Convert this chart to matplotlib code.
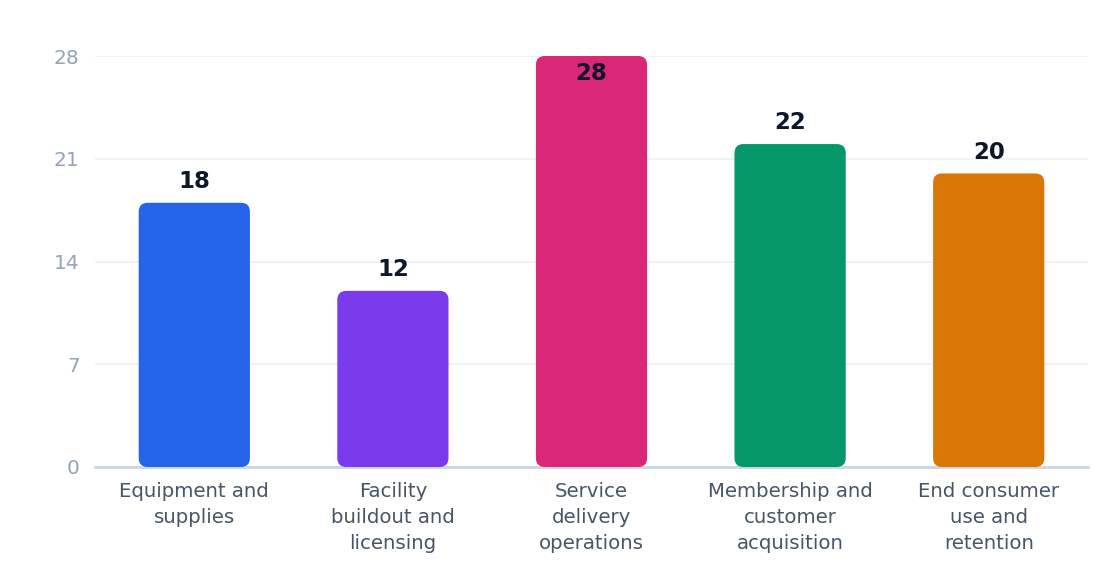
import numpy as np
import matplotlib
matplotlib.use("Agg")
import matplotlib.pyplot as plt
from matplotlib.patches import FancyBboxPatch

categories = ["Equipment and\nsupplies", "Facility\nbuildout and\nlicensing",
              "Service\ndelivery\noperations", "Membership and\ncustomer\nacquisition",
              "End consumer\nuse and\nretention"]
values = [18, 12, 28, 22, 20]
colors = ["#2563eb", "#7c3aed", "#db2777", "#059669", "#d97706"]
yticks = [0, 7, 14, 21, 28]

fig = plt.figure(figsize=(11.2, 5.84), dpi=100)
ax = fig.add_axes([95 / 1120, 117 / 584, 993 / 1120, 411 / 584])

x = np.arange(len(values))
width = 0.56
bars = ax.bar(x, values, width=width, color=colors)

ax.set_xlim(-0.5, len(values) - 0.5)
ax.set_ylim(0, 28)

# swap plain rectangles for rounded ones (radius ~8px)
px_x = 993 / 5.0
px_y = 411 / 28.0
r = 9 / px_x
for b, c in zip(bars, colors):
    b.set_visible(False)
    p = FancyBboxPatch((b.get_x(), b.get_y()), b.get_width(), b.get_height(),
                       boxstyle=f"round,pad=0,rounding_size={r}",
                       mutation_aspect=px_x / px_y,
                       facecolor=c, edgecolor="none", zorder=3)
    ax.add_patch(p)

# value labels
vmax = max(values)
for xi, v in zip(x, values):
    if v >= vmax:
        ax.annotate(str(v), (xi, v), xytext=(0, -4), textcoords="offset points",
                    ha="center", va="top", fontsize=16.5, fontweight="bold",
                    color="#0f172a", zorder=4)
    else:
        ax.annotate(str(v), (xi, v), xytext=(0, 7), textcoords="offset points",
                    ha="center", va="bottom", fontsize=16.5, fontweight="bold",
                    color="#0f172a", zorder=4)

ax.set_yticks(yticks)
ax.set_xticks(x)
ax.set_xticklabels(categories, linespacing=1.45)
ax.tick_params(axis="y", length=0, pad=11, labelsize=14.5, labelcolor="#94a3b8")
ax.tick_params(axis="x", length=0, pad=11, labelsize=14.2, labelcolor="#475569")

ax.grid(axis="y", color="#eef2f6", linewidth=1.3, zorder=0)
ax.set_axisbelow(True)
for s in ["top", "right", "left"]:
    ax.spines[s].set_visible(False)
ax.spines["bottom"].set_color("#cbd5e1")
ax.spines["bottom"].set_linewidth(2)
ax.spines["bottom"].set_zorder(2)

fig.savefig("out.png", dpi=100)
